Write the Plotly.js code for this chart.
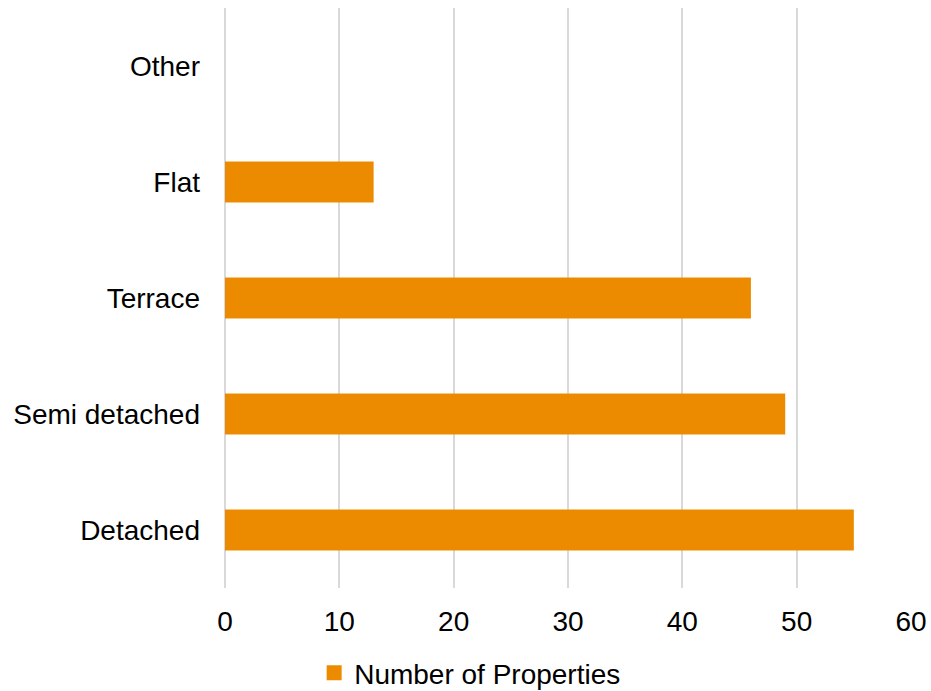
<!DOCTYPE html>
<html>
<head>
<meta charset="utf-8">
<script src="https://cdn.plot.ly/plotly-3.0.1.min.js"></script>
<style>html,body{margin:0;padding:0;background:#fff;}#chart{width:931px;height:691px;}</style>
</head>
<body>
<div id="chart"></div>
<script>
var categories = ["Detached", "Semi detached", "Terrace", "Flat", "Other"];
var values = [55, 49, 46, 13, 0];
var seriesName = "Number of Properties";
var xTicks = [0, 10, 20, 30, 40, 50, 60];

var barColor = "#ED8B00";
var font = {family: "Liberation Sans, Arial, sans-serif", size: 28, color: "#000000"};

var traces = [
  {
    type: "bar",
    orientation: "h",
    x: values,
    y: categories,
    marker: {color: barColor},
    width: 0.353,
    showlegend: false,
    hoverinfo: "x+y"
  },
  {
    type: "scatter",
    mode: "markers",
    x: [null],
    y: [null],
    name: seriesName,
    marker: {symbol: "square", size: 15, color: barColor},
    showlegend: true
  }
];

var layout = {
  width: 931,
  height: 691,
  margin: {l: 225, r: 20, t: 8, b: 103, pad: 0, autoexpand: false},
  paper_bgcolor: "#ffffff",
  plot_bgcolor: "#ffffff",
  font: font,
  showlegend: true,
  xaxis: {
    range: [0, 60],
    tickvals: xTicks,
    ticktext: xTicks.map(String),
    showgrid: true,
    gridcolor: "#d9d9d9",
    gridwidth: 2,
    zeroline: true,
    zerolinecolor: "#d9d9d9",
    zerolinewidth: 2,
    showline: false,
    ticks: "",
    ticklabelstandoff: 14,
    tickfont: font,
    automargin: false,
    fixedrange: true
  },
  yaxis: {
    type: "category",
    categoryorder: "array",
    categoryarray: categories,
    showgrid: false,
    zeroline: false,
    showline: false,
    ticks: "",
    ticklabelstandoff: 24,
    tickfont: font,
    automargin: false,
    fixedrange: true
  },
  legend: {
    orientation: "h",
    xref: "container",
    yref: "container",
    x: 0.505,
    xanchor: "center",
    y: 0.026,
    yanchor: "middle",
    font: font,
    itemsizing: "trace"
  }
};

Plotly.newPlot("chart", traces, layout, {displayModeBar: false, staticPlot: true});
</script>
</body>
</html>
